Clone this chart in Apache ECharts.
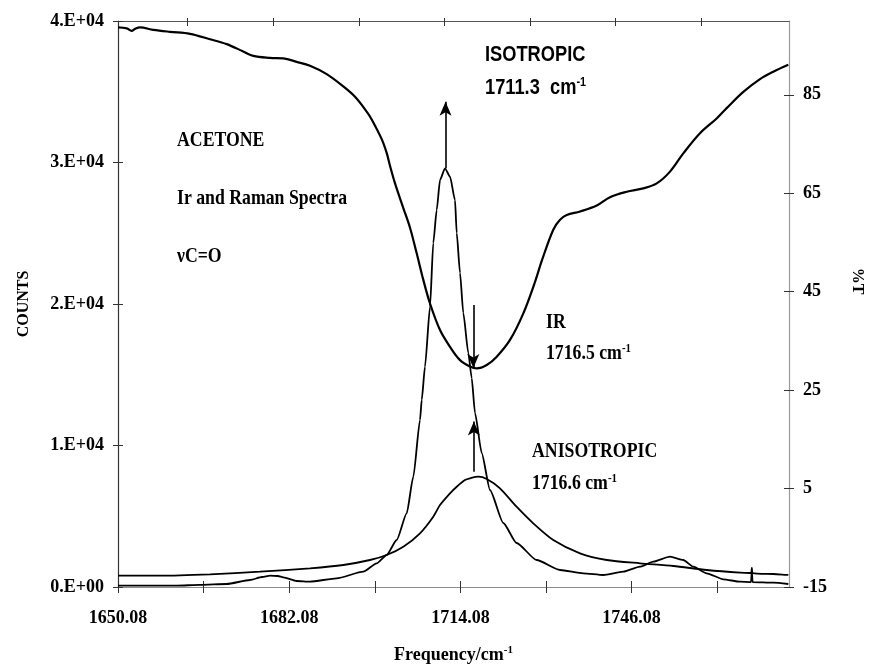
<!DOCTYPE html>
<html>
<head>
<meta charset="utf-8">
<script src="https://cdn.jsdelivr.net/npm/echarts@6/dist/echarts.min.js"></script>
<style>
html,body{margin:0;padding:0;background:#fff;}
#chart{width:869px;height:669px;}
</style>
</head>
<body>
<div id="chart"></div>
<script>
// ---- Data ----
// IR transmission curve (%T, right axis)
const irFreq = [1650.08,1651.71,1652.64,1653.26,1654.19,1656.68,1659.80,1663.54,1667.28,1670.40,1673.50,1675.37,1678.49,1680.98,1683.48,1685.97,1689.09,1692.19,1694.38,1696.56,1697.50,1699.37,1700.30,1700.92,1701.86,1703.41,1704.66,1705.91,1707.15,1708.40,1710.27,1712.14,1714.01,1715.88,1717.13,1719.00,1720.87,1723.35,1725.84,1728.03,1729.33,1731.44,1732.70,1733.95,1736.44,1739.56,1742.04,1745.16,1748.27,1750.77,1753.26,1755.74,1758.86,1761.98,1763.85,1766.96,1770.08,1772.57,1775.37];
const irT = [98.7,98.5,98.0,98.4,98.7,98.2,97.8,97.4,96.3,95.3,93.8,92.9,92.5,92.4,91.7,90.9,89.2,86.7,84.6,81.6,80.0,76.0,73.2,70.6,67.0,62.0,58.0,52.8,47.4,42.6,37.2,33.8,31.1,29.8,29.4,30.1,31.8,35.2,40.6,47.0,51.4,57.6,59.6,60.6,61.3,62.5,64.2,65.3,66.0,67.0,69.4,73.1,77.2,80.2,82.3,85.6,88.2,89.7,91.1];

// Isotropic Raman (counts, left axis)
const isoFreq = [1650.08,1656.06,1661.05,1665.41,1670.40,1674.75,1677.00,1678.49,1679.99,1680.98,1683.48,1685.97,1690.96,1695.93,1698.44,1700.30,1702.17,1704.04,1705.28,1706.53,1706.85,1707.46,1708.40,1709.01,1709.65,1710.27,1711.20,1712.14,1713.07,1713.39,1714.01,1714.62,1715.56,1716.19,1716.81,1718.06,1719.61,1722.10,1724.58,1728.32,1732.70,1737.05,1740.79,1744.53,1747.65,1750.14,1753.26,1755.74,1757.61,1760.12,1763.22,1766.34,1768.40,1768.55,1768.70,1772.57,1775.37];
const isoCounts = [100,100,100,150,212,495,707,800,777,686,424,375,615,1081,1675,2261,3322,5208,7795,11802,13215,15569,19809,24311,26643,28763,29590,28996,27351,25018,22191,19364,16537,14770,12297,9470,6855,4523,3110,1908,1201,968,848,1081,1435,1788,2141,1908,1435,968,544,375,350,1100,345,304,212];

// Anisotropic Raman (counts, left axis)
const anisoFreq = [1650.08,1657.93,1667.28,1676.62,1685.97,1692.19,1697.18,1700.30,1703.41,1706.53,1709.01,1710.27,1712.14,1713.39,1714.94,1715.88,1717.43,1719.00,1721.48,1724.58,1727.70,1731.44,1736.44,1741.43,1747.65,1753.87,1760.12,1766.34,1768.40,1768.55,1768.70,1772.57,1775.37];
const anisoCounts = [799,799,898,1081,1322,1555,1908,2261,2848,3795,4968,5795,6622,7088,7562,7682,7795,7632,6975,5675,4502,3322,2382,1908,1675,1484,1201,1011,990,1350,985,919,848];

// Axis ticks and labels
const xTickValues = [1650.08,1666.08,1682.08,1698.08,1714.08,1730.08,1746.08,1762.08];
const xLabelValues = [1650.08,1682.08,1714.08,1746.08];
const topTickValues = [1663.1,1679.1,1695.1,1711.1,1727.1,1743.1,1759.1];
const rightTickValues = [-15,5,25,45,65,85];

// Peak markers (arrows)
const isoArrow = {freq:1711.3, from:29600, to:34300};
const irArrow = {freq:1716.5, from:42.3, to:29.5};
const anisoArrow = {freq:1716.6, from:8150, to:11700};

const zip = (a,b) => a.map((v,i)=>[v,b[i]]);

const serif = '"Liberation Serif","Times New Roman",serif';
const sans = '"Liberation Sans",Arial,sans-serif';
const labelStyle = {fontFamily: serif, fontWeight:'bold', fontSize:18, color:'#000'};

const chart = echarts.init(document.getElementById('chart'), null, {renderer:'canvas'});

function arrowLine(a){
  return {
    silent:true,
    symbol:'none',
    label:{show:false},
    lineStyle:{color:'#000', width:1.6, type:'solid'},
    emphasis:{disabled:true},
    animation:false,
    data:[[
      {coord:[a.freq,a.from], symbol:'none'},
      {coord:[a.freq,a.to], symbol:'arrow', symbolSize:[9,14]}
    ]]
  };
}

const option = {
  animation:false,
  backgroundColor:'#fff',
  grid:{left:118, right:80, top:21, bottom:82, containLabel:false, outerBoundsMode:'none'},
  xAxis:[
    {
      type:'value', position:'bottom', min:1650.08, max:1775.5,
      axisLine:{show:true, onZero:false, lineStyle:{color:'#8c8c8c', width:1.2}},
      axisTick:{show:true, inside:false, length:6, customValues:xTickValues, lineStyle:{color:'#333'}},
      axisLabel:{show:true, customValues:xLabelValues, margin:22, formatter:v=>Number(v).toFixed(2), ...labelStyle},
      splitLine:{show:false},
      name:'{a|Frequency/cm}{s|-1}',
      nameLocation:'middle', nameGap:58,
      nameTextStyle:{rich:{
        a:{fontFamily:serif, fontWeight:'bold', fontSize:18, color:'#000', lineHeight:20},
        s:{fontFamily:serif, fontWeight:'bold', fontSize:11, color:'#000', verticalAlign:'top', lineHeight:12}
      }}
    },
    {
      type:'value', position:'bottom', min:1650.08, max:1775.5,
      axisLine:{show:false, onZero:false},
      axisTick:{show:true, inside:true, length:6, customValues:xTickValues, lineStyle:{color:'#333'}},
      axisLabel:{show:false}, splitLine:{show:false}
    },
    {
      type:'value', position:'top', min:1650.08, max:1775.5,
      axisLine:{show:true, onZero:false, lineStyle:{color:'#555', width:1.2}},
      axisTick:{show:true, inside:false, length:3, customValues:topTickValues, lineStyle:{color:'#333'}},
      axisLabel:{show:false}, splitLine:{show:false}
    },
    {
      type:'value', position:'top', min:1650.08, max:1775.5,
      axisLine:{show:false, onZero:false},
      axisTick:{show:true, inside:true, length:5, customValues:topTickValues, lineStyle:{color:'#333'}},
      axisLabel:{show:false}, splitLine:{show:false}
    }
  ],
  yAxis:[
    {
      type:'value', position:'left', min:0, max:40000, interval:10000,
      axisLine:{show:true, onZero:false, lineStyle:{color:'#333', width:1.2}},
      axisTick:{show:true, inside:false, length:5, lineStyle:{color:'#333'}},
      axisLabel:{margin:14, formatter:v=> v===0 ? '0.E+00' : (v/10000)+'.E+04', ...labelStyle},
      splitLine:{show:false},
      name:'COUNTS', nameLocation:'middle', nameGap:86, nameRotate:90,
      nameTextStyle:{fontFamily:serif, fontWeight:'bold', fontSize:16, color:'#000'}
    },
    {
      type:'value', position:'right', min:-15, max:100,
      axisLine:{show:true, onZero:false, lineStyle:{color:'#999', width:1.2}},
      axisTick:{show:true, inside:false, length:5, customValues:rightTickValues, lineStyle:{color:'#333'}},
      axisLabel:{margin:14, customValues:rightTickValues, ...labelStyle},
      splitLine:{show:false},
      name:'%T', nameLocation:'middle', nameGap:60, nameRotate:-90,
      nameTextStyle:{fontFamily:serif, fontWeight:'bold', fontSize:16, color:'#000', padding:[0,46,0,0]}
    },
    {
      type:'value', position:'left', min:0, max:40000, interval:10000,
      axisLine:{show:false, onZero:false},
      axisTick:{show:true, inside:true, length:5, lineStyle:{color:'#333'}},
      axisLabel:{show:false}, splitLine:{show:false}
    },
    {
      type:'value', position:'right', min:-15, max:100,
      axisLine:{show:false, onZero:false},
      axisTick:{show:true, inside:true, length:5, customValues:rightTickValues, lineStyle:{color:'#333'}},
      axisLabel:{show:false}, splitLine:{show:false}
    }
  ],
  series:[
    {
      name:'IR', type:'line', xAxisIndex:0, yAxisIndex:1,
      data:zip(irFreq, irT), showSymbol:false, symbol:'none',
      smooth:0.35,
      lineStyle:{color:'#000', width:2.2},
      markLine:arrowLine(irArrow)
    },
    {
      name:'Isotropic', type:'line', xAxisIndex:0, yAxisIndex:0,
      data:zip(isoFreq, isoCounts), showSymbol:false, symbol:'none',
      smooth:0.2, smoothMonotone:'x',
      lineStyle:{color:'#000', width:1.8},
      markLine:arrowLine(isoArrow)
    },
    {
      name:'Anisotropic', type:'line', xAxisIndex:0, yAxisIndex:0,
      data:zip(anisoFreq, anisoCounts), showSymbol:false, symbol:'none',
      smooth:0.25,
      lineStyle:{color:'#000', width:1.8},
      markLine:arrowLine(anisoArrow)
    }
  ],
  graphic:[
    {type:'text', x:177, y:141, scaleX:0.845, silent:true,
     style:{text:'ACETONE', font:'bold 21px '+serif, fill:'#000', align:'left', verticalAlign:'middle'}},
    {type:'text', x:177, y:199, scaleX:0.845, silent:true,
     style:{text:'Ir and Raman Spectra', font:'bold 21px '+serif, fill:'#000', align:'left', verticalAlign:'middle'}},
    {type:'text', x:177, y:257, scaleX:0.845, silent:true,
     style:{text:'\u03BDC=O', font:'bold 21px '+serif, fill:'#000', align:'left', verticalAlign:'middle'}},
    {type:'text', x:485, y:55, scaleX:0.83, silent:true,
     style:{text:'ISOTROPIC', font:'bold 22px '+sans, fill:'#000', align:'left', verticalAlign:'middle'}},
    {type:'text', x:485, y:88, scaleX:0.83, silent:true,
     style:{text:'{a|1711.3  cm}{s|-1}', fill:'#000', align:'left', verticalAlign:'middle',
       rich:{a:{font:'bold 22px '+sans, fill:'#000', lineHeight:24},
             s:{font:'bold 13px '+sans, fill:'#000', verticalAlign:'top', lineHeight:13}}}},
    {type:'text', x:546, y:323, scaleX:0.845, silent:true,
     style:{text:'IR', font:'bold 21px '+serif, fill:'#000', align:'left', verticalAlign:'middle'}},
    {type:'text', x:546, y:354, scaleX:0.845, silent:true,
     style:{text:'{a|1716.5 cm}{s|-1}', fill:'#000', align:'left', verticalAlign:'middle',
       rich:{a:{font:'bold 21px '+serif, fill:'#000', lineHeight:23},
             s:{font:'bold 13px '+serif, fill:'#000', verticalAlign:'top', lineHeight:13}}}},
    {type:'text', x:532, y:452, scaleX:0.845, silent:true,
     style:{text:'ANISOTROPIC', font:'bold 21px '+serif, fill:'#000', align:'left', verticalAlign:'middle'}},
    {type:'text', x:532, y:484, scaleX:0.845, silent:true,
     style:{text:'{a|1716.6 cm}{s|-1}', fill:'#000', align:'left', verticalAlign:'middle',
       rich:{a:{font:'bold 21px '+serif, fill:'#000', lineHeight:23},
             s:{font:'bold 13px '+serif, fill:'#000', verticalAlign:'top', lineHeight:13}}}}
  ]
};
chart.setOption(option);
</script>
</body>
</html>
